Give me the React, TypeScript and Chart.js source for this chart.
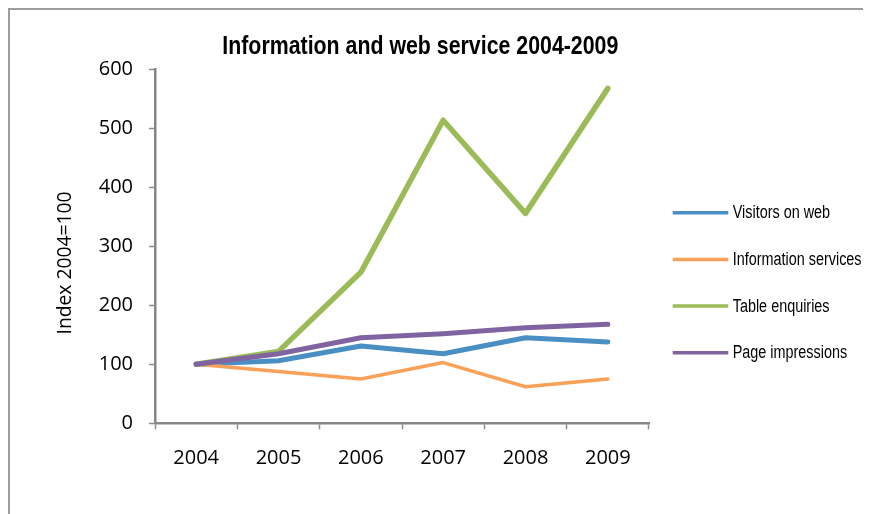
import React, { useEffect, useRef } from 'react';
import { Chart, registerables } from 'chart.js';

Chart.register(...registerables);

const categories = ['2004', '2005', '2006', '2007', '2008', '2009'];
const visitorsOnWeb = [100, 106, 131, 118, 145, 138];
const informationServices = [100, 88, 75, 103, 62, 75];
const tableEnquiries = [100, 122, 256, 514, 356, 568];
const pageImpressions = [100, 118, 145, 152, 162, 168];
const seriesLabels = ['Visitors on web', 'Information services', 'Table enquiries', 'Page impressions'];
const seriesColors = ['#4a8fc4', '#f9a059', '#9bbb59', '#8064a2'];
const seriesWidths = [5, 3.5, 5.5, 5];
const yTicks = [0, 100, 200, 300, 400, 500, 600];
const chartTitle = 'Information and web service 2004-2009';
const yAxisTitle = 'Index 2004=100';

const ARIAL = "'Liberation Sans', Arial, sans-serif";
const SANS = "'Open Sans', 'Noto Sans', sans-serif";

const decorPlugin = {
  id: 'decor',
  afterDraw(chart: any) {
    const ctx = chart.ctx as CanvasRenderingContext2D;
    ctx.save();
    ctx.fillStyle = '#000';
    // title (Arial-like, horizontally condensed like a narrow face)
    ctx.textAlign = 'center';
    ctx.textBaseline = 'alphabetic';
    ctx.font = `bold 26px ${ARIAL}`;
    const tw = ctx.measureText(chartTitle).width;
    ctx.fillText(chartTitle, 410.3, 44.3, Math.min(tw, 396));
    // y axis title
    ctx.save();
    ctx.translate(55, 253);
    ctx.rotate(-Math.PI / 2);
    ctx.font = `19.5px ${SANS}`;
    ctx.textAlign = 'center';
    ctx.textBaseline = 'middle';
    ctx.fillText(yAxisTitle, 0, 0, 143);
    ctx.restore();
    // legend
    const k = 0.8;
    chart.data.datasets.forEach((ds: any, i: number) => {
      const y = 202.7 + i * 46.7;
      ctx.strokeStyle = ds.borderColor;
      ctx.lineWidth = 3.5;
      ctx.lineCap = 'butt';
      ctx.beginPath();
      ctx.moveTo(662.7, y);
      ctx.lineTo(718.3, y);
      ctx.stroke();
      ctx.font = `18px ${ARIAL}`;
      ctx.textAlign = 'left';
      ctx.textBaseline = 'middle';
      ctx.fillStyle = '#000';
      const w = ctx.measureText(ds.label).width;
      ctx.fillText(ds.label, 722.7, y + 0.5, w * k);
    });
    ctx.restore();
  },
};

export default function App() {
  const canvasRef = useRef<HTMLCanvasElement | null>(null);

  useEffect(() => {
    document.documentElement.style.overflow = 'hidden';
    const canvas = canvasRef.current;
    if (!canvas) return;
    const seriesData = [visitorsOnWeb, informationServices, tableEnquiries, pageImpressions];
    const axisColor = '#868686';
    const tickColor = '#8c8c8c';
    const chart = new Chart(canvas, {
      type: 'line',
      data: {
        labels: categories,
        datasets: seriesData.map((d, i) => ({
          label: seriesLabels[i],
          data: d,
          borderColor: seriesColors[i],
          backgroundColor: seriesColors[i],
          borderWidth: seriesWidths[i],
          borderCapStyle: 'round',
          borderJoinStyle: 'round',
          pointRadius: 0,
          pointHoverRadius: 0,
          tension: 0,
          fill: false,
          order: seriesData.length - 1 - i,
        })),
      },
      options: {
        responsive: false,
        animation: false,
        devicePixelRatio: 1,
        layout: { padding: { top: 59.5, right: 222, bottom: 0, left: 0 } },
        plugins: {
          legend: { display: false },
          title: { display: false },
          tooltip: { enabled: false },
        },
        scales: {
          x: {
            type: 'category',
            offset: true,
            grid: {
              offset: true,
              drawOnChartArea: false,
              drawTicks: true,
              tickLength: 6,
              tickColor: tickColor,
              tickWidth: 1.5,
            },
            border: { display: true, color: axisColor, width: 2.5 },
            ticks: {
              color: '#000',
              font: { family: SANS, size: 20 },
              padding: 17,
              maxRotation: 0,
              autoSkip: false,
            },
            afterFit: (s: any) => {
              s.height = 90.7;
            },
          },
          y: {
            type: 'linear',
            min: 0,
            max: 600,
            afterBuildTicks: (s: any) => {
              s.ticks = yTicks.map((v) => ({ value: v }));
            },
            grid: {
              drawOnChartArea: false,
              drawTicks: true,
              tickLength: 6,
              tickColor: tickColor,
              tickWidth: 1.5,
            },
            border: { display: true, color: axisColor, width: 2.5 },
            ticks: {
              color: '#000',
              font: { family: SANS, size: 20 },
              padding: 16,
            },
            afterFit: (s: any) => {
              s.width = 145;
            },
          },
        },
      },
      plugins: [decorPlugin],
    } as any);
    return () => chart.destroy();
  }, []);

  return (
    <div
      style={{
        width: 863,
        height: 506,
        boxSizing: 'border-box',
        borderTop: '2px solid #9d9d9d',
        borderLeft: '2px solid #9d9d9d',
        background: '#fff',
      }}
    >
      <canvas ref={canvasRef} width={861} height={504} style={{ display: 'block', width: 861, height: 504 }} />
    </div>
  );
}
